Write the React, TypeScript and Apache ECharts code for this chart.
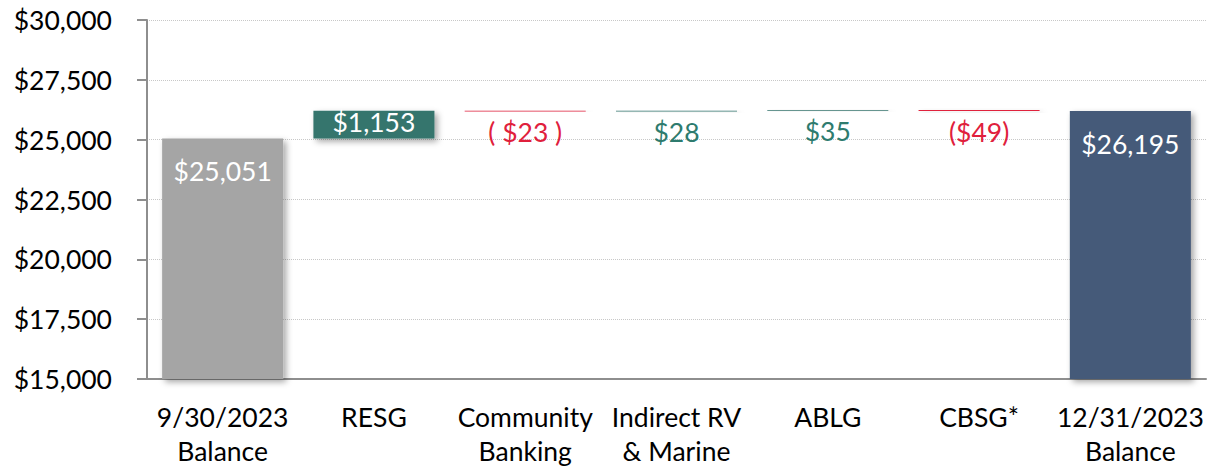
import React, { useEffect, useRef } from "react";
import * as echarts from "echarts";

const categories = ["9/30/2023\nBalance", "RESG", "Community\nBanking", "Indirect RV\n& Marine", "ABLG", "CBSG*", "12/31/2023\nBalance"];
const startBalance = 25051;
const changes = [1153, -23, 28, 35, -49];
const endBalance = 26195;
const changeLabels = ["$1,153", "( $23 )", "$28", "$35", "($49)"];
const yTicks = { min: 15000, max: 30000, interval: 2500 };

const GRAY = "#a5a5a5";
const TEAL = "#35756d";
const RED = "#e0203c";
const NAVY = "#445a79";
const FONT = "Lato";
const FS = 26.5;

export default function App() {
  const ref = useRef<HTMLDivElement>(null);
  useEffect(() => {
    if (!ref.current) return;
    const chart = echarts.init(ref.current, undefined, { renderer: "svg" });

    const base: number[] = [0];
    const heights: number[] = [startBalance];
    let running = startBalance;
    changes.forEach((c) => {
      const next = running + c;
      base.push(Math.min(running, next));
      heights.push(Math.abs(c));
      running = next;
    });
    base.push(0);
    heights.push(endBalance);

    const shadow = { shadowBlur: 6, shadowOffsetX: 3, shadowOffsetY: 3, shadowColor: "rgba(0,0,0,0.35)" };
    const valueData = heights.map((h, i) => {
      if (i === 0 || i === heights.length - 1) {
        return {
          value: h,
          itemStyle: { color: i === 0 ? GRAY : NAVY, ...shadow },
          label: {
            show: true,
            position: "insideTop",
            distance: 19,
            color: "#ffffff",
            formatter: "$" + h.toLocaleString("en-US"),
          },
        };
      }
      const c = changes[i - 1];
      const col = c >= 0 ? TEAL : RED;
      if (i === 1) {
        return {
          value: h,
          itemStyle: { color: col, ...shadow },
          label: { show: true, position: "inside", offset: [0, -3], color: "#ffffff", formatter: changeLabels[i - 1] },
        };
      }
      return {
        value: h,
        itemStyle: { color: col, ...shadow },
        label: { show: true, position: "bottom", distance: 7, color: c >= 0 ? "#2e7b6e" : RED, formatter: changeLabels[i - 1] },
      };
    });

    chart.setOption({
      animation: false,
      textStyle: { fontFamily: FONT },
      grid: { left: 147, right: 13, top: 20, bottom: 90, containLabel: false },
      xAxis: {
        type: "category",
        data: categories,
        axisLine: { lineStyle: { color: "#8e8e8e", width: 2 } },
        axisTick: { length: 8, lineStyle: { color: "#8e8e8e", width: 2 } },
        axisLabel: { color: "#000", fontSize: FS, fontFamily: FONT, lineHeight: 34, margin: 21, interval: 0 },
      },
      yAxis: {
        type: "value",
        min: yTicks.min,
        max: yTicks.max,
        interval: yTicks.interval,
        axisLine: { show: true, lineStyle: { color: "#8e8e8e", width: 2 } },
        axisTick: { show: true, length: 10, lineStyle: { color: "#8e8e8e", width: 2 } },
        splitLine: { lineStyle: { color: "#c8c8c8", type: "dotted", width: 1 } },
        axisLabel: {
          color: "#000",
          fontSize: FS,
          fontFamily: FONT,
          margin: 35,
          formatter: (v: number) => "$" + v.toLocaleString("en-US"),
        },
      },
      series: [
        {
          type: "bar",
          stack: "w",
          data: base,
          itemStyle: { color: "transparent" },
          barCategoryGap: "20%",
          silent: true,
        },
        {
          type: "bar",
          stack: "w",
          data: valueData,
          barCategoryGap: "20%",
          label: { fontSize: FS, fontFamily: FONT },
        },
      ],
    });
    return () => chart.dispose();
  }, []);
  return (
    <div
      ref={ref}
      style={{ position: "fixed", left: 0, top: 0, width: 1219, height: 469, background: "#fff" }}
    />
  );
}
